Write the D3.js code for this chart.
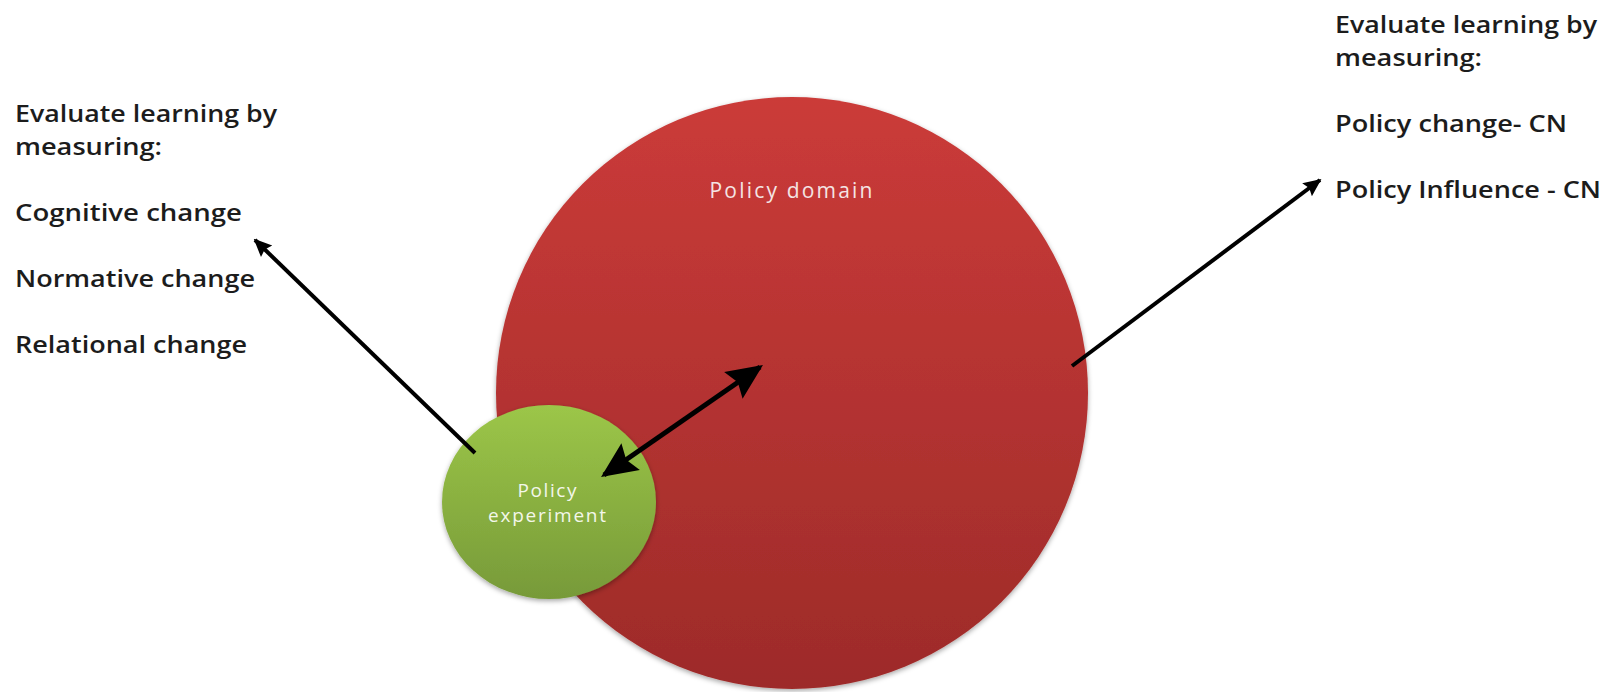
<!DOCTYPE html>
<html>
<head>
<meta charset="utf-8">
<script src="https://cdn.jsdelivr.net/npm/d3@7"></script>
<style>
  body { margin: 0; background: #fff; }
  svg { display: block; }
</style>
</head>
<body>
<script>
// labels shown in the diagram
const circleNames = ['Policy domain', 'Policy experiment'];
const headingLines = ['Evaluate learning by', 'measuring:'];
const experimentMeasures = ['Cognitive change', 'Normative change', 'Relational change'];
const domainMeasures = ['Policy change- CN', 'Policy Influence - CN'];

const width = 1616;
const height = 692;

// layout (pixels)
const domain = { cx: 792, cy: 393, rx: 296, ry: 296 };
const experiment = { cx: 549, cy: 502, rx: 107, ry: 97 };
const lineStep = 33;
const leftBlock = { x: 15, y: 122 };
const rightBlock = { x: 1335, y: 33 };
const textWidths = {
  'Evaluate learning by': 262,
  'measuring:': 147,
  'Cognitive change': 227,
  'Normative change': 240,
  'Relational change': 232,
  'Policy change- CN': 232,
  'Policy Influence - CN': 266
};

const svg = d3.select('body').append('svg')
  .attr('width', width)
  .attr('height', height);

const defs = svg.append('defs');

const redGrad = defs.append('linearGradient')
  .attr('id', 'redGrad')
  .attr('x1', 0).attr('y1', 0).attr('x2', 0).attr('y2', 1);
redGrad.append('stop').attr('offset', '0%').attr('stop-color', '#cb3b39');
redGrad.append('stop').attr('offset', '100%').attr('stop-color', '#9d2b29');

const greenGrad = defs.append('linearGradient')
  .attr('id', 'greenGrad')
  .attr('x1', 0).attr('y1', 0).attr('x2', 0).attr('y2', 1);
greenGrad.append('stop').attr('offset', '0%').attr('stop-color', '#9cc648');
greenGrad.append('stop').attr('offset', '100%').attr('stop-color', '#779a39');

const shadow = defs.append('filter')
  .attr('id', 'shadow')
  .attr('x', '-10%').attr('y', '-10%')
  .attr('width', '120%').attr('height', '125%');
shadow.append('feDropShadow')
  .attr('dx', 0).attr('dy', 2)
  .attr('stdDeviation', 2.5)
  .attr('flood-color', '#000')
  .attr('flood-opacity', 0.35);

function addMarker(id, size) {
  defs.append('marker')
    .attr('id', id)
    .attr('viewBox', '0 0 10 10')
    .attr('refX', 9)
    .attr('refY', 5)
    .attr('markerUnits', 'userSpaceOnUse')
    .attr('markerWidth', size)
    .attr('markerHeight', size)
    .attr('orient', 'auto-start-reverse')
    .append('path')
    .attr('d', 'M0,0.5 L10,5 L0,9.5 L1.5,5 Z')
    .attr('fill', '#000');
}
addMarker('headSmall', 18);
addMarker('headBig', 36);

// circles
const shapes = [domain, experiment];
const fills = ['url(#redGrad)', 'url(#greenGrad)'];

svg.selectAll('ellipse.area')
  .data(circleNames)
  .enter()
  .append('ellipse')
  .attr('class', 'area')
  .attr('cx', (d, i) => shapes[i].cx)
  .attr('cy', (d, i) => shapes[i].cy)
  .attr('rx', (d, i) => shapes[i].rx)
  .attr('ry', (d, i) => shapes[i].ry)
  .attr('fill', (d, i) => fills[i])
  .attr('filter', 'url(#shadow)');

// labels inside circles
svg.append('text')
  .attr('x', 791)
  .attr('y', 198)
  .attr('text-anchor', 'middle')
  .attr('font-family', 'Open Sans, sans-serif')
  .attr('font-size', 21)
  .attr('fill', '#f4e4e4')
  .attr('textLength', 163)
  .attr('lengthAdjust', 'spacing')
  .text(circleNames[0]);

const expWords = circleNames[1].split(' ');
const expWidths = [59, 118];
svg.selectAll('text.exp')
  .data(expWords)
  .enter()
  .append('text')
  .attr('class', 'exp')
  .attr('x', 547)
  .attr('y', (d, i) => 497 + i * 25)
  .attr('text-anchor', 'middle')
  .attr('font-family', 'Open Sans, sans-serif')
  .attr('font-size', 19)
  .attr('fill', '#f3f7ea')
  .attr('textLength', (d, i) => expWidths[i])
  .attr('lengthAdjust', 'spacing')
  .text(d => d);

// arrows
const line = d3.line();

svg.append('path')
  .attr('d', line([[475, 453], [255, 240]]))
  .attr('stroke', '#000')
  .attr('stroke-width', 4)
  .attr('fill', 'none')
  .attr('marker-end', 'url(#headSmall)');

svg.append('path')
  .attr('d', line([[1072, 366], [1320, 180]]))
  .attr('stroke', '#000')
  .attr('stroke-width', 4)
  .attr('fill', 'none')
  .attr('marker-end', 'url(#headSmall)');

svg.append('path')
  .attr('d', line([[604, 475], [760, 367]]))
  .attr('stroke', '#000')
  .attr('stroke-width', 5)
  .attr('fill', 'none')
  .attr('marker-start', 'url(#headBig)')
  .attr('marker-end', 'url(#headBig)');

// side text blocks
function textBlock(block, measures) {
  const rows = headingLines.map((t, i) => ({ t, k: i }))
    .concat(measures.map((t, i) => ({ t, k: 3 + i * 2 })));
  svg.append('g')
    .selectAll('text')
    .data(rows)
    .enter()
    .append('text')
    .attr('x', block.x)
    .attr('y', d => block.y + d.k * lineStep)
    .attr('font-family', 'Open Sans, sans-serif')
    .attr('font-weight', 600)
    .attr('font-size', 23)
    .attr('fill', '#1c1c1c')
    .attr('textLength', d => textWidths[d.t])
    .attr('lengthAdjust', 'spacingAndGlyphs')
    .text(d => d.t);
}
textBlock(leftBlock, experimentMeasures);
textBlock(rightBlock, domainMeasures);
</script>
</body>
</html>
